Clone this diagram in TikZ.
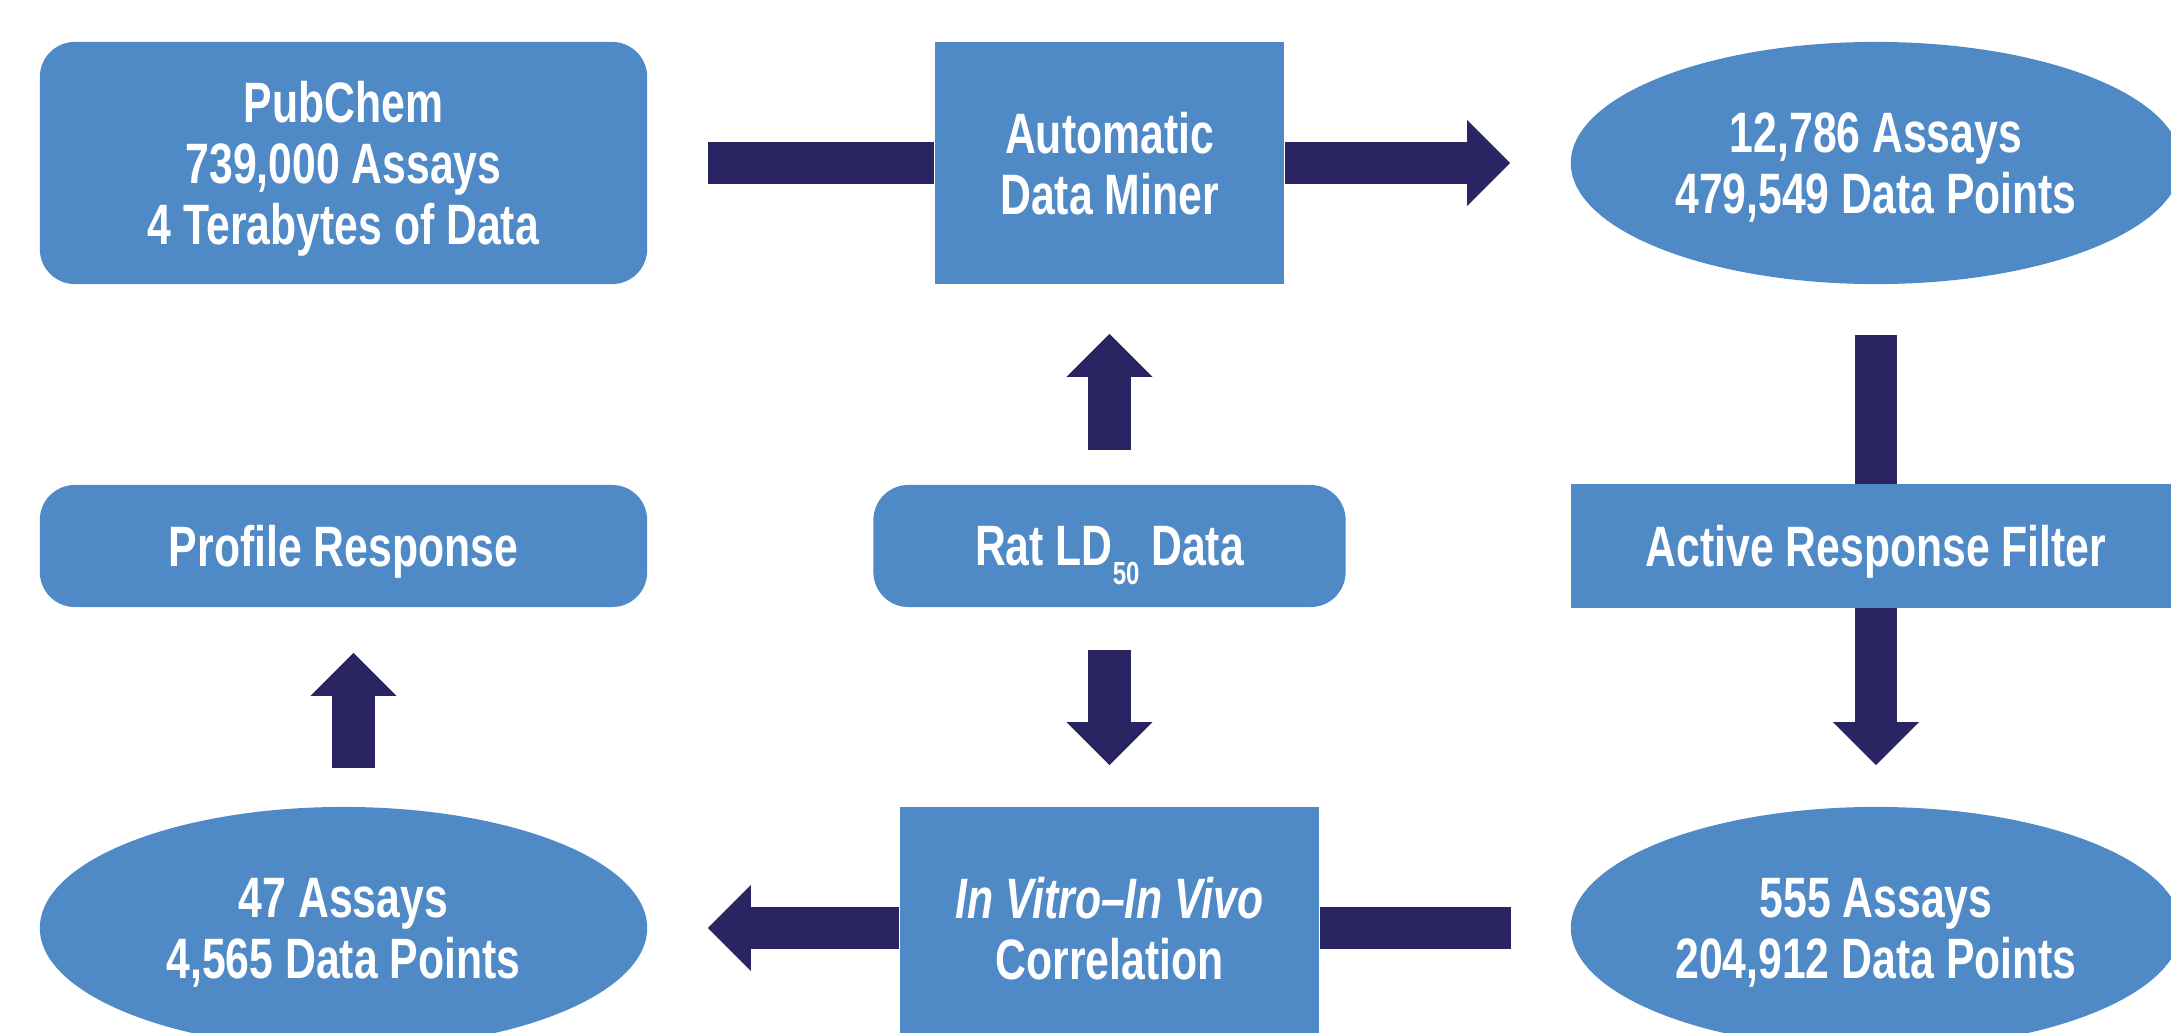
\documentclass[tikz,border=0pt]{standalone}
\usepackage{fontspec}
\setmainfont{Liberation Sans}[FakeStretch=0.75]
\usetikzlibrary{arrows.meta,shapes.geometric}

\definecolor{boxblue}{RGB}{79,137,198}
\definecolor{arrownavy}{RGB}{42,37,98}

\tikzset{
    stage/.style={fill=boxblue, text=white, align=center, inner sep=0pt, text depth=0pt,
        font=\bfseries\fontsize{16.2}{17.4}\selectfont},
    roundstage/.style={stage, rounded corners=0.35cm},
    ovalstage/.style={stage, ellipse, minimum width=6.1cm, minimum height=2.42cm},
    flow/.style={draw=arrownavy, line width=0.42cm},
    flowhead/.style={flow, -{Triangle[width=0.86cm, length=0.43cm, line width=0pt]}}
}

\begin{document}
\begin{tikzpicture}[x=0.01cm, y=-0.01cm]
    % Page: 2171 x 1033, y counts downwards
    \useasboundingbox (0,0) rectangle (2171,1033);

    % Top row
    \node[roundstage, minimum width=6.07cm, minimum height=2.42cm] (pubchem) at (343.5,163)
        {PubChem\\739,000 Assays\\4 Terabytes of Data};
    \node[stage, minimum width=3.49cm, minimum height=2.42cm] (miner) at (1109.5,163)
        {Automatic\\Data Miner};
    \node[ovalstage] (assays1) at (1876,163) {12,786 Assays\\479,549 Data Points};

    % Middle row
    \node[roundstage, minimum width=6.07cm, minimum height=1.22cm] (profile) at (343.5,546)
        {Profile Response};
    \node[roundstage, minimum width=4.72cm, minimum height=1.22cm] (rat) at (1109.5,546)
        {Rat LD\raisebox{-0.19cm}{\fontsize{9.1}{9.1}\selectfont 50} Data};
    \node[stage, minimum width=6.1cm, minimum height=1.23cm] (filter) at (1876,546)
        {Active Response Filter};

    % Bottom row
    \node[ovalstage, minimum width=6.07cm] (assays3) at (343.5,928) {47 Assays\\4,565 Data Points};
    \node[stage, minimum width=4.19cm, minimum height=2.42cm] (corr) at (1109.5,928)
        {\textit{In Vitro--In Vivo}\\Correlation};
    \node[ovalstage] (assays2) at (1876,928) {555 Assays\\204,912 Data Points};

    % Arrows
    \draw[flow, shorten <=0.6cm] (pubchem.east) -- (miner.west);
    \draw[flowhead, shorten >=0.6cm] (miner.east) -- (assays1.west);
    \draw[flowhead, shorten <=0.34cm, shorten >=0.49cm] (rat.north) -- (miner.south);
    \draw[flow, shorten <=0.5cm] (assays1.south) -- (filter.north);
    \draw[flowhead, shorten >=0.41cm] (filter.south) -- (assays2.north);
    \draw[flowhead, shorten <=0.42cm, shorten >=0.41cm] (rat.south) -- (corr.north);
    \draw[flow, shorten <=0.59cm] (assays2.west) -- (corr.east);
    \draw[flowhead, shorten >=0.6cm] (corr.west) -- (assays3.east);
    \draw[flowhead, shorten <=0.38cm, shorten >=0.45cm]
        ([xshift=0.1cm]assays3.north) -- ([xshift=0.1cm]profile.south);
\end{tikzpicture}
\end{document}
